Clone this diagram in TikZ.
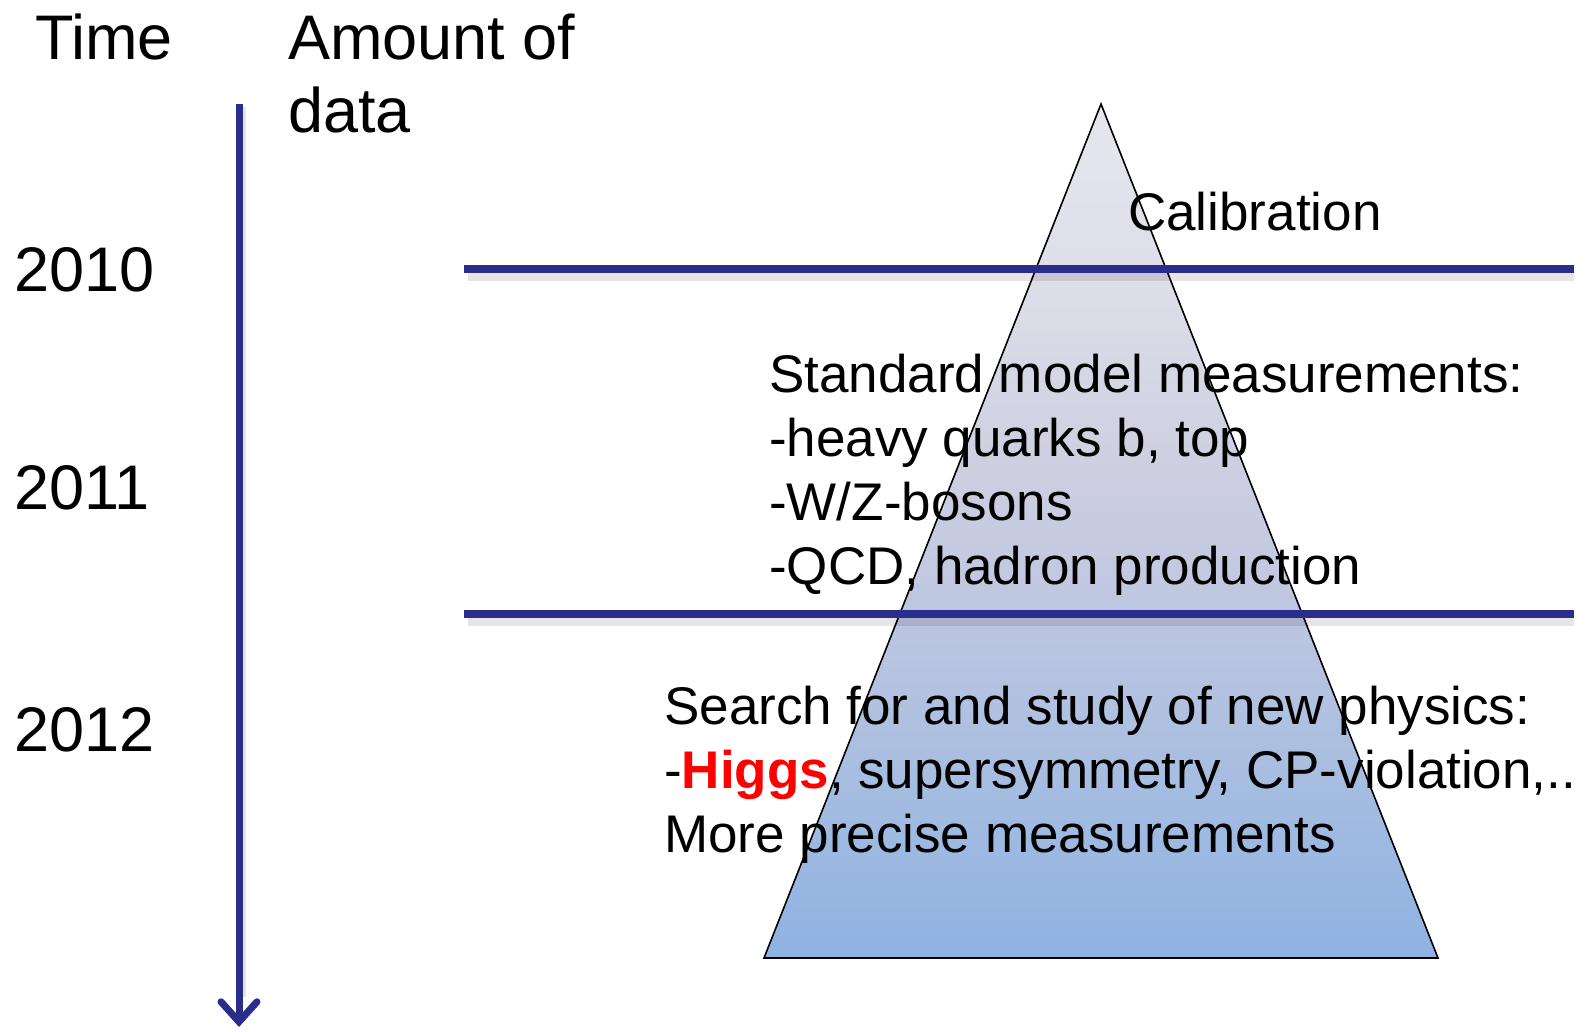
\documentclass[tikz,border=0pt]{standalone}
\usepackage{fontspec}
\setmainfont{Liberation Sans}
\usetikzlibrary{positioning, arrows.meta, calc}

\definecolor{axisblue}{RGB}{43,45,140}
\definecolor{pyrA}{RGB}{230,230,238}
\definecolor{pyrB}{RGB}{220,221,232}
\definecolor{pyrC}{RGB}{205,207,224}
\definecolor{pyrD}{RGB}{185,196,224}
\definecolor{pyrE}{RGB}{150,182,225}
\definecolor{pyrF}{RGB}{142,178,226}
\definecolor{higgsred}{RGB}{255,0,0}

% path spans 25bp (base) to 75bp (apex)
\pgfdeclareverticalshading{pyrshade}{100bp}{%
  color(0bp)=(pyrF); color(25bp)=(pyrF); color(28.4bp)=(pyrE);
  color(43bp)=(pyrD); color(53.5bp)=(pyrC); color(63.5bp)=(pyrB);
  color(75bp)=(pyrA); color(100bp)=(pyrA)}

\begin{document}
\begin{tikzpicture}[
    x=1pt, y=-1pt,
    head/.style={
        anchor=base west, inner sep=0pt,
        align=left,
        font=\fontsize{63}{73}\selectfont
    },
    year/.style={
        anchor=base west, inner sep=0pt,
        font=\fontsize{63}{73}\selectfont
    },
    body/.style={
        anchor=base west, inner sep=0pt,
        align=left,
        font=\fontsize{53}{64}\selectfont
    },
    pyramid/.style={
        draw=black, line width=1.6pt,
        shading=pyrshade
    },
    rule/.style={axisblue, line width=7.5pt},
    ruleshade/.style={black, opacity=0.10, line width=9pt},
    timeaxis/.style={
        axisblue, line width=7pt,
        -{Straight Barb[length=20pt, width=36pt, line cap=round]}
    }
]
\useasboundingbox (0,0) rectangle (1587,1031);

% ===================== PYRAMID =====================
\coordinate (apex) at (1101,104);
\coordinate (baseL) at (764,958);
\coordinate (baseR) at (1438,958);
\draw[pyramid] (apex) -- (baseR) -- (baseL) -- cycle;

% ===================== PERIOD RULES =====================
\coordinate (r1L) at (464,269);
\coordinate (r1R) at (1574,269);
\coordinate (r2L) at (464,614);
\coordinate (r2R) at (1574,614);

\draw[ruleshade] ($(r1L)+(4,7)$) -- ($(r1R)+(0,7)$);
\draw[ruleshade] ($(r2L)+(4,7)$) -- ($(r2R)+(0,7)$);
\draw[rule] (r1L) -- (r1R);
\draw[rule] (r2L) -- (r2R);

% ===================== TIME AXIS =====================
\coordinate (axtop) at (239,104);
\coordinate (axbot) at (239,1027);
\draw[ruleshade, line width=6pt] ($(axtop)+(4,3)$) -- ($(axbot)+(4,-30)$);
\draw[timeaxis] (axtop) -- (axbot);

% ===================== HEADINGS AND YEARS =====================
% multi-line nodes: base = baseline of the last line
\node[head] (time) at (35,59) {Time};
\node[head] (amount) at (288,132) {Amount of\\data};

\node[year] (y2010) at (14,291) {2010};
\node[year] (y2011) at (14,509) {2011};
\node[year] (y2012) at (14,751) {2012};

% ===================== PYRAMID TEXT =====================
\node[body] (calib) at (1128,230) {Calibration};

\node[body] (sm) at (769,584)
{Standard model measurements:\\
-heavy quarks b, top\\
-W/Z-bosons\\
-QCD, hadron production};

\node[body] (np) at (664,852)
{Search for and study of new physics:\\
-\textcolor{higgsred}{\textbf{Higgs}}, supersymmetry, CP-violation,..\\
More precise measurements};

\end{tikzpicture}
\end{document}
